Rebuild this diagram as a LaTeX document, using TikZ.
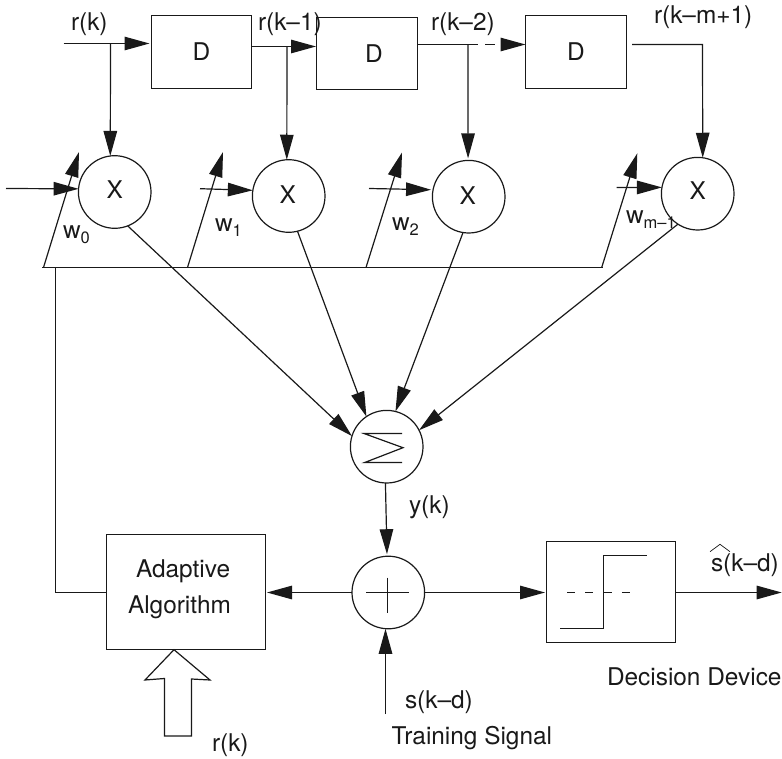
\documentclass[tikz,border=0pt]{standalone}
\usepackage{fontspec}
\setmainfont{TeX Gyre Heros}
\usetikzlibrary{arrows.meta}
\newcommand{\subw}[1]{w\raisebox{-5pt}{\fontsize{16.5}{20}\selectfont #1}}
\tikzset{
  wire/.style={line width=1.2pt,draw=black!90},
  arr/.style={wire,-{Triangle[length=25pt,width=13.5pt]}},
  box/.style={draw=black!90,line width=1.2pt,rectangle,inner sep=0pt,outer sep=0pt},
  circ/.style={draw=black!90,line width=1.2pt,circle,minimum size=72.6pt,inner sep=0pt,outer sep=0pt},
  lab/.style={anchor=base west,inner sep=0pt,outer sep=0pt},
  every node/.append style={font=\fontsize{24.4}{28}\selectfont,text=black!90}
}
\begin{document}
\begin{tikzpicture}[x=1pt,y=-1pt]
\useasboundingbox (0,0) rectangle (782,759);
% delay boxes
\node[box,minimum width=100pt,minimum height=73pt] (d1) at (201.5,52) {D};
\node[box,minimum width=101pt,minimum height=72pt] (d2) at (367,53.5) {\hspace*{14pt}D};
\node[box,minimum width=101pt,minimum height=73pt] (d3) at (576,52) {D};
% multipliers
\node[circ] (m1) at (114.7,192) {\raisebox{4.5pt}{X}};
\node[circ] (m2) at (288.7,196) {\raisebox{2pt}{X\hspace*{2pt}}};
\node[circ] (m3) at (468.7,196.7) {\raisebox{2.7pt}{X\hspace*{2pt}}};
\node[circ] (m4) at (697.7,193.7) {\raisebox{6.5pt}{X}};
% summer and adder
\node[circ] (sum) at (386.7,446.7) {};
\node[circ] (add) at (388.3,592.5) {};
% lower blocks
\node[box,minimum width=159pt,minimum height=115pt] (alg) at (186,592) {};
\node[box,minimum width=129pt,minimum height=101pt] (dec) at (611,592) {};
% coordinates
\coordinate (rin) at (63.5,43.5);
\coordinate (j1) at (110.5,43.5);
\coordinate (j2) at (287,46.5);
\coordinate (j3) at (468,44.5);
\coordinate (o3) at (632,44.5);
\coordinate (o3c) at (702.5,44.5);
\coordinate (i1) at (6,188.5);
\coordinate (i2) at (200,188.7);
\coordinate (i3) at (369,188.5);
\coordinate (i4) at (616.7,187.5);
\coordinate (b0) at (42,267.5);
\coordinate (b1) at (603,267.5);
\coordinate (f0) at (55.5,267.5);
\coordinate (f1) at (55.5,592.5);
\coordinate (w0s) at (43.5,267.5);
\coordinate (w0e) at (79,152);
\coordinate (w1s) at (187.5,267.5);
\coordinate (w1e) at (223,152);
\coordinate (w2s) at (366,267.5);
\coordinate (w2e) at (402,152.5);
\coordinate (w3s) at (601.7,267.5);
\coordinate (w3e) at (637.3,153.3);
\coordinate (sin) at (385.5,714);
\coordinate (sout) at (781.7,592.5);
% delay line
\draw[arr,shorten >=2pt] (rin) -- (d1.west |- rin);
\draw[arr] (j1) -- (m1.97);
\draw[arr,shorten >=0.5pt] (d1.east |- j2) -- (d2.west |- j2);
\draw[arr] (j2) -- (m2.93);
\draw[wire] (d2.east |- j3) -- (j3);
\draw[arr,dash pattern=on 10pt off 7pt] (j3) -- (d3.west |- j3);
\draw[arr,shorten >=2pt] (j3) -- (m3.91);
\draw[arr] (o3) -- (o3c) -- (m4.82);
% inputs to multipliers
\draw[arr] (i1) -- (m1.175);
\draw[arr] (i2) -- (m2.171);
\draw[arr,shorten >=2pt] (i3) -- (m3.169);
\draw[arr] (i4) -- (m4.170);
% weights
\draw[wire] (b0) -- (b1);
\draw[arr] (w0s) -- (w0e);
\draw[arr] (w1s) -- (w1e);
\draw[arr] (w2s) -- (w2e);
\draw[arr] (w3s) -- (w3e);
\draw[wire] (f0) -- (f1) -- (alg.west |- f1);
% to summer
\draw[arr] (m1.-69) -- (sum.163.7);
\draw[arr] (m2.-76.6) -- (sum.124.4);
\draw[arr] (m3.-99.4) -- (sum.76.9);
\draw[arr] (m4.237.8) -- (sum.27.1);
\draw[arr,shorten >=2pt] (sum.-92) -- (add.92);
% lower path
\draw[arr,shorten >=1.5pt] (add.west |- f1) -- (alg.east |- f1);
\draw[arr,shorten >=1.5pt] (add.east |- f1) -- (dec.west |- f1);
\draw[arr] (dec.east |- f1) -- (sout);
\draw[arr] (sin) -- (add.south -| sin);
% sigma, plus, step
\draw[wire] (402,433.5) -- (364,433.5) -- (403,447.7) -- (364.7,462.5) -- (402,462.5);
\draw[wire] (366,592.5) -- (409,592.5) (387.5,577.7) -- (387.5,613.3);
\draw[wire] (560,628.5) -- (603.5,628.5) -- (603.5,555.5) -- (646.7,555.5);
\draw[wire,dash pattern=on 8pt off 10.3pt] (567,592.5) -- (640,592.5);
% hollow arrow
\draw[wire,line join=miter] (174,649.7) -- (145,680) -- (164.5,678.5) -- (164.5,736) -- (191.5,736) -- (191.5,679) -- (210,680) -- cycle;
% hat
\draw[line width=0.7pt,draw=black!90] (710,551.7) -- (720,544.3) -- (730,551.7);
% labels
\node[lab] (l1) at (71,31) {r(k)};
\node[lab] (l2) at (258,31) {r(k–1)};
\node[lab] (l3) at (431,31) {r(k–2)};
\node[lab] (l4) at (654,23.3) {r(k–m+1)};
\node[lab] (w0) at (63,238.3) {\subw{0}};
\node[lab] (w1) at (215,231.7) {\subw{1}};
\node[lab] (w2) at (392,231) {\subw{2}};
\node[lab] (w3) at (626,224) {\subw{m–1}};
\node[lab] (ly) at (409,513) {y(k)};
\node[lab] (ls) at (405,708) {s(k–d)};
\node[lab] (lt) at (391.7,744) {Training Signal};
\node[lab] (ldd) at (607,685) {Decision Device};
\node[lab] (lh) at (711,571) {s(k–d)};
\node[lab] (la1) at (136,577.7) {Adaptive};
\node[lab] (la2) at (128,613) {Algorithm};
\node[lab] (lr) at (212,751.7) {r(k)};
\end{tikzpicture}
\end{document}
